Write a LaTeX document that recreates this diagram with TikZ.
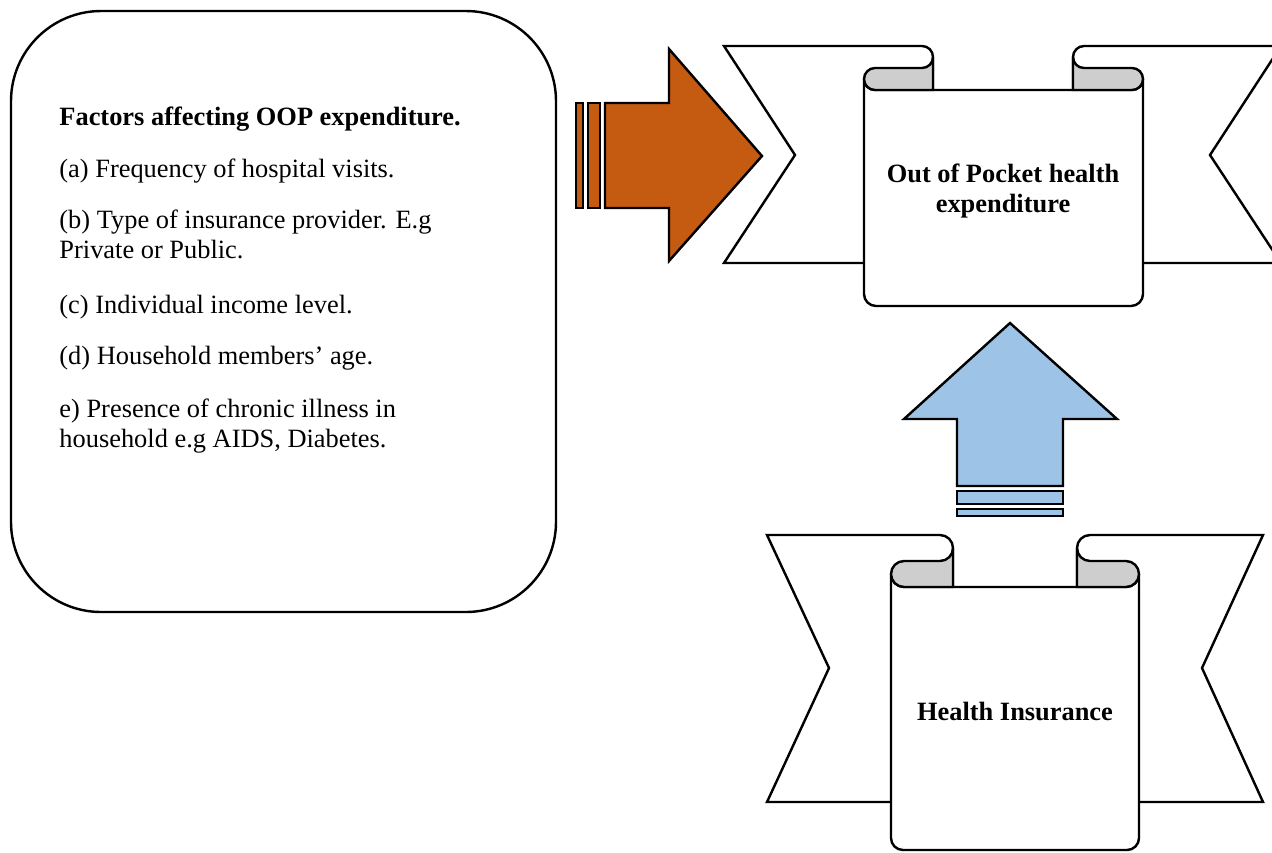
\documentclass[tikz,border=0pt]{standalone}
\usepackage{fontspec}
\setmainfont{Liberation Serif}
\definecolor{oporange}{HTML}{C55A11}
\definecolor{opblue}{HTML}{9DC3E6}
\definecolor{rollgray}{HTML}{CFCECE}
\newcommand{\drawribbon}{%
 \draw[rib] (\rbL,\rbT) -- ({\rbFa-\rbr},\rbT) arc[start angle=-90,end angle=0,radius=\rbr] -- (\rbFa,\rbB) -- (\rbL,\rbB) -- (\rbNL,\rbNY) -- cycle;
 \draw[rib] (\rbR,\rbT) -- ({\rbFb+\rbr},\rbT) arc[start angle=-90,end angle=-180,radius=\rbr] -- (\rbFb,\rbB) -- (\rbR,\rbB) -- (\rbNR,\rbNY) -- cycle;
 \draw[rib] ({\rbXl+\rbr},{\rbT+4*\rbr}) arc[start angle=90,end angle=180,radius=\rbr] -- (\rbXl,{\rbBb-\rbc}) arc[start angle=180,end angle=90,radius=\rbc] -- ({\rbXr-\rbc},\rbBb) arc[start angle=90,end angle=0,radius=\rbc] -- (\rbXr,{\rbT+3*\rbr}) arc[start angle=0,end angle=90,radius=\rbr] -- cycle;
 \draw[roll] (\rbFa,{\rbT+\rbr}) arc[start angle=0,end angle=90,radius=\rbr] -- ({\rbXl+\rbr},{\rbT+2*\rbr}) arc[start angle=270,end angle=90,radius=\rbr] -- (\rbFa,{\rbT+4*\rbr}) -- cycle;
 \draw[roll] (\rbFb,{\rbT+\rbr}) arc[start angle=180,end angle=90,radius=\rbr] -- ({\rbXr-\rbr},{\rbT+2*\rbr}) arc[start angle=-90,end angle=90,radius=\rbr] -- (\rbFb,{\rbT+4*\rbr}) -- cycle;
}
\begin{document}
\begin{tikzpicture}[x=0.4545pt,y=-0.4545pt,line join=miter,
  rib/.style={draw=black,line width=1.1pt,fill=white},
  roll/.style={draw=black,line width=1.1pt,fill=rollgray},
  blockarrow/.style={draw=black,line width=1.1pt},
  boxtext/.style={anchor=base west,inner sep=0pt,font=\fontsize{12}{13.4}\selectfont},
  ribtext/.style={anchor=base,inner sep=0pt,font=\fontsize{12}{13.4}\selectfont\bfseries}]
\useasboundingbox (0,0) rectangle (1272,852);
\clip (0,0) rectangle (1272,852);
\fill[white] (0,0) rectangle (1272,852);
% factors box
\draw[line width=1.1pt,rounded corners=41pt] (11,11) rectangle (556,612);
\node[boxtext,font=\fontsize{12}{13.4}\selectfont\bfseries] (t0) at (59,125) {Factors affecting OOP expenditure.};
\node[boxtext] (t1) at (59,177) {(a) Frequency of hospital visits.};
\node[boxtext] (t2) at (59,228) {(b) Type of insurance provider. E.g};
\node[boxtext] (t2b) at (59,258) {Private or Public.};
\node[boxtext] (t3) at (59,313) {(c) Individual income level.};
\node[boxtext] (t4) at (59,364) {(d) Household members’ age.};
\node[boxtext] (t5) at (59,417) {e) Presence of chronic illness in};
\node[boxtext] (t5b) at (59,447) {household e.g AIDS, Diabetes.};
% orange arrow
\draw[blockarrow,fill=oporange] (605,103) -- (669,103) -- (669,49) -- (762,156) -- (669,261) -- (669,208) -- (605,208) -- cycle;
\draw[blockarrow,fill=oporange] (588,103) rectangle (600,208);
\draw[blockarrow,fill=oporange] (576,103) rectangle (583,208);
% top ribbon
\def\rbL{724}\def\rbNL{795}\def\rbNY{155}\def\rbR{1281}\def\rbNR{1210}
\def\rbT{46}\def\rbB{263}\def\rbXl{864}\def\rbXr{1143}\def\rbFa{933}\def\rbFb{1073}
\def\rbr{11}\def\rbc{12}\def\rbBb{306}
\drawribbon
\node[ribtext] (oop1) at (1003,182) {Out of Pocket health};
\node[ribtext] (oop2) at (1003,212) {expenditure};
% blue arrow
\draw[blockarrow,fill=opblue] (1010,323) -- (1117,419) -- (1063,419) -- (1063,486) -- (957,486) -- (957,419) -- (904,419) -- cycle;
\draw[blockarrow,fill=opblue] (957,491) rectangle (1063,504);
\draw[blockarrow,fill=opblue] (957,509) rectangle (1063,516);
% bottom ribbon
\def\rbL{767}\def\rbNL{829}\def\rbNY{668}\def\rbR{1263}\def\rbNR{1202}
\def\rbT{535}\def\rbB{802}\def\rbXl{891}\def\rbXr{1139}\def\rbFa{953}\def\rbFb{1077}
\def\rbr{13}\def\rbc{12}\def\rbBb{850}
\drawribbon
\node[ribtext] (hi) at (1015,720) {Health Insurance};
\end{tikzpicture}
\end{document}
